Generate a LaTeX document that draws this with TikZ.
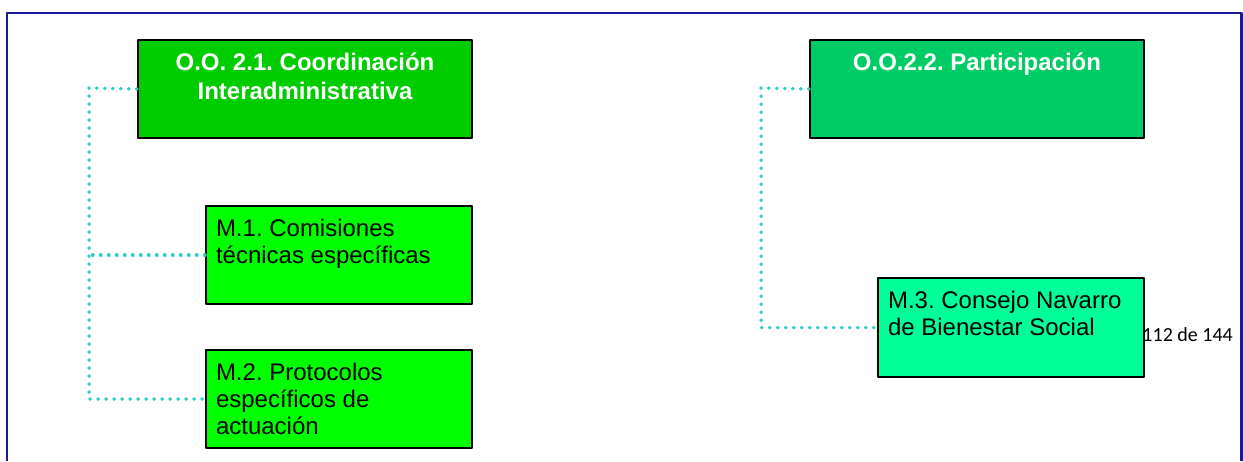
\documentclass[tikz,border=0pt]{standalone}
\usepackage{fontspec}
\setmainfont{Liberation Sans}
\newfontfamily\pagefont{Carlito}
\usepackage{tikz}
\usetikzlibrary{positioning}
\frenchspacing

\definecolor{framecol}{HTML}{1A1A99}
\definecolor{dotcol}{HTML}{33CCCC}
\definecolor{oogreen}{HTML}{00CC00}
\definecolor{ooteal}{HTML}{00CC66}
\definecolor{mgreen}{HTML}{00FF00}
\definecolor{mmint}{HTML}{00FF99}

\newcommand{\headtext}[2]{\parbox[c][98pt][t]{#1}{\centering\fontsize{24}{29}\selectfont\bfseries\rule{0pt}{30pt}#2}}
\newcommand{\itemtext}[3]{\parbox[c][#1][t]{#2}{\raggedright\fontsize{24}{27}\selectfont\rule{0pt}{30pt}#3}}

\begin{document}
\begin{tikzpicture}[line cap=round,line join=round,x=1pt,y=-1pt,
  obox/.style={draw=black,line width=2pt,anchor=north west,inner xsep=10pt,inner ysep=0pt,text=white},
  mbox/.style={draw=black,line width=2pt,anchor=north west,inner xsep=10pt,inner ysep=0pt,text=black},
  dotline/.style={draw=dotcol,line width=3.5pt,line cap=round,dash pattern=on 0.5pt off 7.5pt},
  frameline/.style={draw=framecol,line width=2.5pt,line cap=butt},
  pagenum/.style={font=\pagefont\fontsize{20}{24}\selectfont,inner sep=0pt}]
\useasboundingbox (0,0) rectangle (1243,461);
\draw[frameline] (7,461) -- (7,13) -- (1241.5,13) -- (1241.5,461);
% objetivos operativos
\node[obox,fill=oogreen] (oo21) at (137,39) {\headtext{314pt}{O.O. 2.1. Coordinación\\Interadministrativa}};
\node[obox,fill=ooteal] (oo22) at (809,39) {\headtext{314pt}{O.O.2.2. Participación}};
% medidas
\node[mbox,fill=mgreen] (m1) at (205,205) {\itemtext{98pt}{246pt}{M.1. Comisiones\\técnicas específicas}};
\node[mbox,fill=mgreen] (m2) at (205,349) {\itemtext{98pt}{246pt}{M.2. Protocolos\\específicos de\\actuación}};
\node[pagenum,anchor=base east] (pnum) at (1233,341) {112 de 144};
\node[mbox,fill=mmint] (m3) at (877,277) {\itemtext{99pt}{246pt}{M.3. Consejo Navarro\\de Bienestar Social}};
% conectores
\coordinate (lbus) at (89,88);
\coordinate (rbus) at (761,88);
\draw[dotline] (oo21.west) -- (lbus) |- (m2.west);
\draw[dotline] (m1.west) -- (m1.west -| lbus);
\draw[dotline] (oo22.west) -- (rbus) |- (m3.west);
\end{tikzpicture}
\end{document}
